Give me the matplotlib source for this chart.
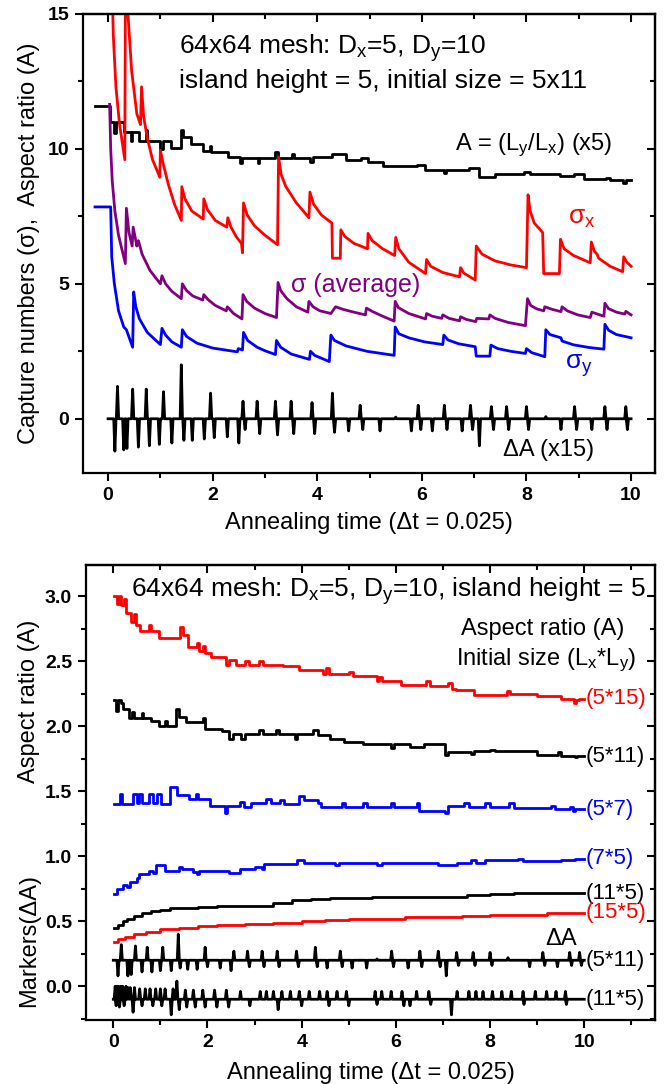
import matplotlib
matplotlib.use("Agg")
import matplotlib.pyplot as plt
from matplotlib.ticker import MultipleLocator, FormatStrFormatter

plt.rcParams['font.family'] = ['Liberation Sans', 'DejaVu Sans']
plt.rcParams['mathtext.default'] = 'regular'

RED = '#ff0000'
BLUE = '#0000ff'
PURPLE = '#800080'

# ---- upper panel: capture numbers and aspect ratio, initial size 5x11 ----
# aspect ratio A (x5), stepwise (time, value)
A_X5 = [(-0.25, 11.59), (0.03, 10.98), (0.12, 10.6), (0.155, 10.98), (0.3, 10.61),
        (0.43, 10.3), (0.465, 10.61), (0.59, 10.3), (0.72, 10.69), (0.735, 10.3),
        (0.99, 10.0), (1.05, 10.3), (1.2, 10.05), (1.4, 10.69), (1.44, 10.44),
        (1.58, 10.18), (1.82, 9.93), (1.94, 10.11), (1.96, 9.87), (2.3, 9.7),
        (2.53, 9.49), (2.57, 9.65), (2.86, 9.47), (2.89, 9.65), (3.2, 9.87),
        (3.24, 9.65), (3.52, 9.82), (3.56, 9.68), (3.87, 9.5), (3.91, 9.7),
        (4.28, 9.8), (4.55, 9.6), (4.84, 9.66), (4.97, 9.5), (5.26, 9.35),
        (5.9, 9.42), (6.06, 9.22), (6.42, 9.1), (6.46, 9.2), (6.9, 9.28),
        (7.09, 8.96), (7.4, 9.08), (7.95, 9.15), (8.06, 9.08), (8.64, 8.98),
        (8.9, 9.08), (9.1, 8.87), (9.52, 8.93), (9.6, 8.85), (9.85, 8.75),
        (9.9, 8.85), (10.0, 8.85)]

SIGMA_X = [(0.06, 17.5), (0.1, 14.2), (0.15, 12.3), (0.22, 10.9), (0.32, 9.6),
           (0.335, 17.5), (0.38, 15.0), (0.45, 12.9), (0.55, 11.3), (0.62, 10.9),
           (0.64, 12.3), (0.68, 11.2), (0.75, 10.4), (0.85, 9.6), (0.99, 8.95),
           (1.0, 9.95), (1.06, 9.4), (1.15, 8.7), (1.27, 7.95), (1.4, 7.35),
           (1.41, 8.6), (1.47, 8.15), (1.6, 7.7), (1.82, 7.4),
           (1.83, 8.15), (1.9, 7.75), (2.05, 7.35), (2.27, 7.1),
           (2.29, 7.45), (2.35, 7.1), (2.45, 6.75), (2.55, 6.5), (2.57, 6.15),
           (2.59, 8.0), (2.66, 7.55), (2.8, 7.15), (3.0, 6.8), (3.24, 6.45),
           (3.26, 9.7), (3.31, 9.05), (3.4, 8.6), (3.6, 8.0), (3.84, 7.45),
           (3.86, 8.4), (3.93, 7.95), (4.08, 7.55), (4.28, 7.25),
           (4.29, 5.95), (4.44, 5.95),
           (4.45, 7.0), (4.53, 6.75), (4.7, 6.5), (4.96, 6.3),
           (4.97, 6.87), (5.05, 6.6), (5.25, 6.3), (5.48, 6.05),
           (5.5, 6.72), (5.56, 6.3), (5.75, 5.8), (6.07, 5.38),
           (6.09, 5.9), (6.17, 5.65), (6.4, 5.42), (6.72, 5.26),
           (6.74, 5.6), (6.8, 5.4), (7.02, 5.14),
           (7.04, 6.4), (7.15, 6.1), (7.4, 5.85), (7.7, 5.7), (8.0, 5.6),
           (8.03, 8.3), (8.07, 7.7), (8.15, 7.25), (8.31, 6.9),
           (8.33, 5.38), (8.63, 5.38),
           (8.65, 6.65), (8.72, 6.3), (8.9, 6.05), (9.22, 5.78),
           (9.24, 6.55), (9.3, 6.2), (9.35, 6.1), (9.38, 5.95), (9.6, 5.65), (9.84, 5.45),
           (9.86, 6.0), (9.92, 5.8), (10.0, 5.65)]

SIGMA_AVG = [(0.03, 11.65), (0.05, 10.0), (0.08, 8.8), (0.13, 7.7), (0.2, 6.8), (0.33, 5.75),
             (0.35, 7.8), (0.4, 6.9), (0.46, 6.4),
             (0.48, 7.1), (0.55, 6.4),
             (0.58, 6.6), (0.65, 6.1), (0.8, 5.5), (1.0, 5.0),
             (1.03, 5.3), (1.1, 5.0), (1.22, 4.72), (1.4, 4.45),
             (1.42, 5.0), (1.5, 4.75), (1.62, 4.55), (1.81, 4.4),
             (1.83, 4.6), (1.92, 4.4), (2.05, 4.2), (2.26, 4.0),
             (2.28, 4.15), (2.4, 3.9), (2.56, 3.7),
             (2.58, 4.6), (2.65, 4.35), (2.8, 4.1), (3.0, 3.9), (3.22, 3.75),
             (3.25, 5.05), (3.3, 4.75), (3.42, 4.45), (3.6, 4.15), (3.82, 3.95),
             (3.84, 4.35), (3.92, 4.15), (4.05, 4.0), (4.26, 3.9),
             (4.35, 4.15), (4.5, 4.05), (4.7, 3.95), (4.92, 3.85),
             (4.94, 4.1), (5.05, 3.98), (5.25, 3.8), (5.47, 3.62),
             (5.49, 4.35), (5.55, 4.12), (5.75, 3.9), (6.07, 3.7),
             (6.09, 3.9), (6.2, 3.8), (6.38, 3.72),
             (6.4, 3.85), (6.52, 3.72), (6.72, 3.63),
             (6.74, 3.78), (6.85, 3.68), (7.03, 3.6),
             (7.05, 3.72), (7.28, 3.7),
             (7.3, 3.85), (7.4, 3.72), (7.65, 3.57), (7.98, 3.45),
             (8.02, 4.45), (8.08, 4.2), (8.2, 4.07), (8.33, 4.0),
             (8.35, 4.15), (8.5, 4.05), (8.66, 3.97),
             (8.68, 4.15), (8.78, 4.0), (8.98, 3.85), (9.22, 3.75),
             (9.25, 3.95), (9.48, 3.8),
             (9.5, 4.28), (9.57, 4.08), (9.72, 3.95), (9.88, 3.88),
             (9.9, 3.98), (10.0, 3.85)]

SIGMA_Y = [(-0.25, 7.85), (0.05, 7.85), (0.07, 6.0), (0.12, 5.0), (0.2, 4.0), (0.3, 3.4),
           (0.35, 3.3), (0.47, 2.65),
           (0.49, 4.7), (0.53, 4.15), (0.6, 3.7), (0.75, 3.2), (1.0, 2.75),
           (1.03, 3.35), (1.1, 3.1), (1.22, 2.85), (1.4, 2.65),
           (1.42, 3.3), (1.5, 3.05), (1.7, 2.8), (2.0, 2.62), (2.47, 2.48),
           (2.49, 2.6), (2.57, 2.55),
           (2.59, 3.2), (2.67, 2.9), (2.85, 2.65), (3.0, 2.52), (3.2, 2.38),
           (3.22, 2.9), (3.3, 2.65), (3.5, 2.4), (3.85, 2.2),
           (3.87, 2.5), (3.95, 2.35), (4.23, 2.12),
           (4.26, 3.1), (4.33, 2.9), (4.55, 2.7), (4.95, 2.5), (5.47, 2.35),
           (5.49, 3.4), (5.56, 3.15), (5.75, 3.0), (6.05, 2.85), (6.4, 2.75),
           (6.42, 3.1), (6.5, 2.92), (6.7, 2.78), (7.02, 2.67),
           (7.04, 2.32), (7.3, 2.32),
           (7.32, 2.73), (7.45, 2.6), (7.7, 2.5), (7.98, 2.42),
           (8.0, 2.6), (8.1, 2.45), (8.35, 2.3),
           (8.37, 3.3), (8.45, 3.12), (8.66, 3.0),
           (8.68, 2.88), (8.9, 2.74), (9.2, 2.64), (9.48, 2.58),
           (9.5, 3.5), (9.57, 3.28), (9.72, 3.12), (10.0, 3.0)]

# change of A (x15): (time, jump)
DA_X15 = [(0.13, -1.2), (0.18, 1.2), (0.3, -1.15), (0.36, -1.1), (0.47, 1.1), (0.58, -1.05),
          (0.73, 1.1), (0.79, -1.0), (0.98, -0.95), (1.06, 1.0), (1.22, -0.9), (1.4, 2.0),
          (1.45, -0.8), (1.61, -0.8), (1.84, -0.75), (1.96, 0.95), (2.03, -0.7), (2.28, -0.67),
          (2.5, -0.9), (2.58, 0.65), (2.62, -0.4), (2.85, 0.65), (2.9, -0.55), (3.2, 0.65),
          (3.24, -0.6), (3.5, 0.65), (3.55, -0.55), (3.9, 0.6), (3.95, -0.55), (4.29, 0.95),
          (4.33, -0.5), (4.6, -0.45), (4.82, 0.5), (4.87, -0.4), (5.2, -0.45), (5.5, 0.06),
          (5.8, -0.45), (5.93, 0.5), (5.98, -0.4), (6.2, -0.45), (6.43, 0.5), (6.48, -0.4),
          (6.77, -0.45), (6.93, 0.5), (6.97, -0.4), (7.1, -1.0), (7.33, 0.45), (7.37, -0.4),
          (7.62, 0.45), (7.66, -0.4), (8.0, 0.45), (8.04, -0.4), (8.37, 0.08), (8.66, -0.4),
          (8.92, 0.45), (8.96, -0.4), (9.25, -0.4), (9.5, 0.45), (9.54, -0.4), (9.9, 0.45),
          (9.93, -0.4)]

# ---- lower panel: aspect ratio for different initial sizes (Lx*Ly) ----
A_5x15 = [(0.02, 3.0), (0.08, 2.94), (0.12, 3.0), (0.17, 2.93), (0.22, 2.98), (0.26, 2.87),
          (0.37, 2.8), (0.45, 2.86), (0.49, 2.78), (0.57, 2.73), (0.76, 2.78), (0.8, 2.73),
          (0.98, 2.68), (1.42, 2.76), (1.48, 2.7), (1.58, 2.61), (1.78, 2.64), (1.82, 2.58),
          (1.9, 2.62), (1.95, 2.56), (2.08, 2.53), (2.4, 2.47), (2.45, 2.51), (2.6, 2.47),
          (2.8, 2.5), (2.88, 2.47), (3.1, 2.5), (3.17, 2.47), (3.6, 2.46), (3.95, 2.43),
          (4.45, 2.4), (4.52, 2.45), (4.58, 2.4), (4.8, 2.4), (5.0, 2.42), (5.08, 2.39),
          (5.6, 2.35), (5.65, 2.38), (5.7, 2.35), (6.1, 2.32), (6.65, 2.35), (6.72, 2.31),
          (6.8, 2.31), (7.1, 2.33), (7.2, 2.29), (7.28, 2.28), (7.65, 2.24), (8.35, 2.27),
          (8.42, 2.25), (9.0, 2.23), (9.5, 2.21), (9.78, 2.18), (9.83, 2.2), (9.88, 2.21),
          (10.0, 2.21)]

A_5x11 = [(0.02, 2.2), (0.06, 2.12), (0.09, 2.2), (0.16, 2.18), (0.2, 2.13), (0.3, 2.13),
          (0.33, 2.06), (0.4, 2.11), (0.44, 2.06), (0.52, 2.06), (0.6, 2.1), (0.64, 2.06),
          (0.72, 2.06), (0.8, 2.04), (0.98, 2.0), (1.1, 2.04), (1.15, 2.0), (1.33, 2.13),
          (1.4, 2.07), (1.55, 2.03), (1.9, 2.06), (1.95, 1.98), (2.1, 1.98), (2.3, 1.96),
          (2.45, 1.9), (2.55, 1.94), (2.72, 1.9), (2.8, 1.94), (3.1, 1.97), (3.18, 1.94),
          (3.45, 1.97), (3.52, 1.94), (3.85, 1.9), (3.9, 1.94), (4.25, 1.97), (4.35, 1.93),
          (4.6, 1.9), (4.8, 1.9), (4.9, 1.88), (5.3, 1.86), (5.9, 1.83), (5.95, 1.86),
          (6.3, 1.84), (6.6, 1.86), (7.05, 1.78), (7.1, 1.8), (7.6, 1.79), (7.65, 1.81),
          (8.0, 1.82), (8.1, 1.81), (9.0, 1.78), (9.45, 1.8), (9.5, 1.77), (9.8, 1.76),
          (9.85, 1.77), (10.0, 1.77)]

A_5x7 = [(0.02, 1.4), (0.15, 1.48), (0.18, 1.4), (0.42, 1.48), (0.5, 1.41), (0.55, 1.48),
         (0.62, 1.41), (0.75, 1.48), (0.85, 1.41), (0.92, 1.48), (1.02, 1.4), (1.2, 1.53),
         (1.35, 1.47), (1.6, 1.44), (1.75, 1.48), (1.8, 1.44), (2.05, 1.39), (2.38, 1.33),
         (2.42, 1.39), (2.7, 1.42), (2.78, 1.38), (2.92, 1.41), (3.25, 1.44), (3.35, 1.41),
         (3.55, 1.43), (3.62, 1.4), (3.95, 1.46), (4.05, 1.43), (4.35, 1.41), (4.4, 1.38),
         (4.85, 1.41), (4.92, 1.38), (5.3, 1.41), (5.38, 1.38), (5.9, 1.41), (5.97, 1.38),
         (6.45, 1.41), (6.5, 1.35), (7.05, 1.33), (7.1, 1.39), (7.45, 1.41), (7.55, 1.38),
         (7.9, 1.41), (8.0, 1.38), (8.4, 1.41), (8.5, 1.37), (9.3, 1.39), (9.38, 1.36),
         (9.7, 1.38), (9.75, 1.35), (9.8, 1.36), (10.0, 1.36)]

A_7x5 = [(0.02, 0.71), (0.08, 0.75), (0.2, 0.78), (0.3, 0.76), (0.35, 0.8), (0.5, 0.83),
         (0.55, 0.86), (0.75, 0.89), (0.85, 0.87), (0.9, 0.93), (1.1, 0.89), (1.4, 0.92),
         (1.45, 0.9), (1.7, 0.88), (1.78, 0.86), (1.82, 0.89), (2.2, 0.89), (2.45, 0.87),
         (2.7, 0.9), (3.0, 0.92), (3.15, 0.9), (3.2, 0.94), (3.9, 0.97), (4.05, 0.95),
         (4.7, 0.93), (4.8, 0.95), (5.6, 0.93), (5.7, 0.95), (6.9, 0.93), (7.3, 0.95),
         (7.6, 0.97), (7.7, 0.95), (7.9, 0.97), (8.6, 0.98), (8.7, 0.96), (9.5, 0.97),
         (9.8, 0.98), (10.0, 0.98)]

A_11x5 = [(0.02, 0.45), (0.1, 0.47), (0.2, 0.5), (0.3, 0.52), (0.45, 0.54), (0.6, 0.56),
          (0.8, 0.58), (1.0, 0.59), (1.2, 0.6), (1.5, 0.6), (1.8, 0.61), (2.2, 0.62),
          (2.6, 0.62), (3.0, 0.62), (3.4, 0.64), (3.8, 0.66), (4.2, 0.67), (4.6, 0.68),
          (5.0, 0.68), (5.5, 0.685), (6.0, 0.69), (6.5, 0.69), (7.0, 0.69), (7.5, 0.7),
          (8.0, 0.71), (8.5, 0.715), (9.0, 0.715), (9.5, 0.715), (10.0, 0.715)]

A_15x5 = [(0.02, 0.34), (0.1, 0.36), (0.25, 0.38), (0.45, 0.4), (0.7, 0.42), (1.0, 0.44),
          (1.4, 0.45), (1.8, 0.46), (2.2, 0.47), (2.8, 0.48), (3.4, 0.49), (4.0, 0.5),
          (4.5, 0.51), (5.0, 0.52), (5.6, 0.52), (6.2, 0.53), (6.8, 0.535), (7.4, 0.54),
          (8.0, 0.545), (8.6, 0.55), (9.2, 0.56), (9.7, 0.565), (10.0, 0.565)]

# markers for the change of A, drawn on offset baselines
DA_5x11 = [(0.1, -0.12), (0.17, 0.12), (0.31, -0.12), (0.38, -0.11), (0.47, 0.11), (0.61, -0.09),
           (0.72, 0.1), (0.82, -0.09), (1.0, -0.08), (1.05, 0.1), (1.23, -0.08), (1.38, 0.2),
           (1.42, -0.06), (1.58, -0.07), (1.78, -0.07), (1.95, 0.1), (2.0, -0.05), (2.27, -0.06),
           (2.5, -0.08), (2.56, 0.07), (2.85, 0.07), (2.89, -0.05), (3.16, 0.07), (3.2, -0.05),
           (3.48, 0.07), (3.52, -0.05), (3.89, 0.07), (3.93, -0.05), (4.29, 0.1), (4.33, -0.05),
           (4.54, -0.06), (4.82, 0.07), (4.86, -0.05), (5.07, -0.06), (5.38, -0.06), (5.6, 0.01),
           (5.91, 0.07), (5.95, -0.05), (6.26, -0.06), (6.51, 0.07), (6.55, -0.05), (6.9, 0.07),
           (6.94, -0.05), (7.07, -0.12), (7.29, 0.06), (7.33, -0.04), (7.64, 0.06), (7.68, -0.04),
           (8.0, 0.06), (8.04, -0.04), (8.38, 0.02), (8.84, -0.05), (9.12, 0.06), (9.16, -0.04),
           (9.43, -0.05), (9.69, 0.06), (9.73, -0.04), (9.9, 0.06), (9.94, -0.04)]

DA_11x5 = [(0.04, 0.1), (0.06, -0.05), (0.08, 0.1), (0.11, 0.1), (0.13, -0.06), (0.16, 0.1),
           (0.2, 0.1), (0.23, -0.05), (0.27, 0.1), (0.31, 0.09), (0.36, 0.09), (0.42, -0.1),
           (0.45, 0.09), (0.56, 0.08), (0.61, -0.05), (0.68, 0.08), (0.78, 0.08), (0.84, -0.05),
           (0.9, 0.08), (1.0, 0.08), (1.03, -0.05), (1.1, 0.08), (1.23, -0.12), (1.27, 0.08),
           (1.35, 0.14), (1.4, -0.08), (1.53, 0.07), (1.56, -0.06), (1.7, 0.07), (1.74, -0.06),
           (1.9, 0.07), (1.95, -0.06), (2.15, 0.07), (2.2, -0.06), (2.4, 0.07), (2.45, -0.06),
           (2.7, 0.06), (2.9, -0.05), (3.12, 0.06), (3.25, 0.06), (3.4, 0.06), (3.5, -0.08),
           (3.58, 0.06), (3.76, 0.06), (3.95, 0.06), (4.0, -0.05), (4.16, 0.06), (4.38, 0.06),
           (4.54, 0.06), (4.58, -0.05), (4.75, 0.06), (4.95, 0.06), (5.0, -0.05), (5.56, 0.06),
           (5.6, -0.04), (5.7, 0.06), (5.9, 0.06), (6.13, 0.06), (6.17, -0.05), (6.3, -0.05),
           (6.44, 0.06), (6.7, 0.06), (6.74, -0.04), (7.18, -0.12), (7.3, 0.06), (7.55, 0.06),
           (7.7, 0.06), (7.85, 0.06), (8.05, 0.06), (8.25, 0.06), (8.45, 0.06), (8.7, 0.06),
           (8.72, -0.04), (8.96, 0.06), (9.2, 0.06), (9.4, 0.06), (9.6, 0.06), (9.62, -0.04)]


def split(pairs):
    return [p[0] for p in pairs], [p[1] for p in pairs]


def spike_line(events, base, t0=0.0, t1=10.0, w=0.022):
    xs, ys = [t0], [base]
    for t, h in events:
        xs += [t - w, t, t + w]
        ys += [base, base + h, base]
    xs.append(t1)
    ys.append(base)
    return xs, ys


def style_axes(ax, xmaj, xmin, ymaj, ymin, yfmt):
    for s in ax.spines.values():
        s.set_linewidth(1.6)
    ax.xaxis.set_major_locator(MultipleLocator(xmaj))
    ax.xaxis.set_minor_locator(MultipleLocator(xmin))
    ax.yaxis.set_major_locator(MultipleLocator(ymaj))
    ax.yaxis.set_minor_locator(MultipleLocator(ymin))
    ax.yaxis.set_major_formatter(FormatStrFormatter(yfmt))
    ax.tick_params(which='both', direction='out', width=1.5, labelsize=14, pad=4)
    ax.tick_params(which='major', length=6)
    ax.tick_params(which='minor', length=3.5)
    for lab in ax.get_xticklabels() + ax.get_yticklabels():
        lab.set_fontweight('bold')
    # mirrored axes with inward ticks
    top = ax.secondary_xaxis('top')
    right = ax.secondary_yaxis('right')
    top.xaxis.set_major_locator(MultipleLocator(xmaj))
    top.xaxis.set_minor_locator(MultipleLocator(xmin))
    right.yaxis.set_major_locator(MultipleLocator(ymaj))
    right.yaxis.set_minor_locator(MultipleLocator(ymin))
    for sec in (top, right):
        sec.tick_params(which='both', direction='in', width=1.5, labelleft=False,
                        labelright=False, labeltop=False, labelbottom=False)
        sec.tick_params(which='major', length=6)
        sec.tick_params(which='minor', length=3.5)
        for s in sec.spines.values():
            s.set_linewidth(1.6)


fig = plt.figure(figsize=(6.67, 10.84), dpi=100)
LW = 2.0

# upper panel
ax1 = fig.add_axes([0.1244, 0.5639, 0.857, 0.4232])
ax1.set_xlim(-0.48, 10.45)
ax1.set_ylim(-2, 15)

t, v = split(A_X5)
ax1.step(t, v, where='post', color='black', lw=LW)
t, v = split(SIGMA_X)
ax1.plot(t, v, color=RED, lw=LW)
t, v = split(SIGMA_AVG)
ax1.plot(t, v, color=PURPLE, lw=LW)
t, v = split(SIGMA_Y)
ax1.plot(t, v, color=BLUE, lw=LW)
xs, ys = spike_line(DA_X15, 0.0)
ax1.plot(xs, ys, color='black', lw=LW)

style_axes(ax1, 2, 1, 5, 2.5, '%d')
ax1.text(1.36, 13.75, '64x64 mesh: D$_x$=5, D$_y$=10', fontsize=19, va='center')
ax1.text(1.36, 12.5, 'island height = 5, initial size = 5x11', fontsize=19, va='center')
ax1.text(9.65, 10.15, 'A = (L$_y$/L$_x$) (x5)', fontsize=17, va='center', ha='right')
ax1.text(9.05, 7.45, r'$\sigma_x$', fontsize=19, color=RED, ha='center', va='center')
ax1.text(3.5, 4.95, 'σ (average)', fontsize=18, color=PURPLE, va='center')
ax1.text(9.0, 1.95, r'$\sigma_y$', fontsize=19, color=BLUE, ha='center', va='center')
ax1.text(9.3, -1.15, 'ΔA (x15)', fontsize=17, ha='right', va='center')
ax1.text(-0.095, 0.5, 'Capture numbers (σ),  Aspect ratio (A)', fontsize=17,
         rotation=90, ha='center', va='center', transform=ax1.transAxes)
ax1.set_xlabel('Annealing time (Δt = 0.025)', fontsize=17, labelpad=6)

# lower panel
ax2 = fig.add_axes([0.1289, 0.059, 0.853, 0.4197])
ax2.set_xlim(-0.58, 11.5)
ax2.set_ylim(-0.26, 3.24)

lower = [(A_5x15, RED, '(5*15)'), (A_5x11, 'black', '(5*11)'), (A_5x7, BLUE, '(5*7)'),
         (A_7x5, BLUE, '(7*5)'), (A_11x5, 'black', '(11*5)'), (A_15x5, RED, '(15*5)')]
for series, col, lab in lower:
    t, v = split(series)
    ax2.step(t, v, where='post', color=col, lw=LW)
    ax2.text(10.02, v[-1], lab, color=col, fontsize=16, va='center')

for events, base, lab in [(DA_5x11, 0.2, '(5*11)'), (DA_11x5, -0.1, '(11*5)')]:
    xs, ys = spike_line(events, base)
    ax2.plot(xs, ys, color='black', lw=LW)
    ax2.text(10.02, base, lab, fontsize=16, va='center')

style_axes(ax2, 2, 1, 0.5, 0.25, '%.1f')
ax2.text(0.37, 3.04, '64x64 mesh: D$_x$=5, D$_y$=10, island height = 5', fontsize=19,
         va='center')
ax2.text(10.86, 2.75, 'Aspect ratio (A)', fontsize=17, ha='right', va='center')
ax2.text(11.1, 2.51, 'Initial size (L$_x$*L$_y$)', fontsize=17, ha='right', va='center')
ax2.text(9.85, 0.36, 'ΔA', fontsize=17, ha='right', va='center')
ytr = ax2.get_yaxis_transform()
ax2.text(-0.1, 2.19, 'Aspect ratio (A)', fontsize=17, rotation=90, ha='center', va='center',
         transform=ytr)
ax2.text(-0.1, 0.35, 'Markers(ΔA)', fontsize=17, rotation=90, ha='center', va='center',
         transform=ytr)
ax2.set_xlabel('Annealing time (Δt = 0.025)', fontsize=17, labelpad=8)

fig.savefig('out.png', dpi=100)
